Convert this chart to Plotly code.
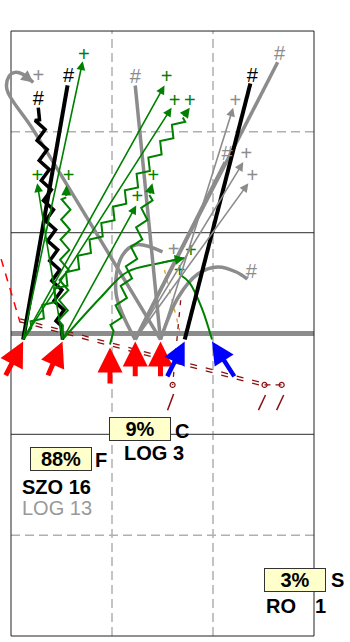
import math
import plotly.graph_objects as go

# ---------------- data (pitch units: 30 wide, 60 long) ----------------
PITCH_W, PITCH_H = 30, 60
grid_dashed_x = [10, 20]
grid_dashed_y = [10, 50]
grid_solid_y = [20, 40]
midline_y = 30

# big origin arrows (tail -> tip)
shot_team = ["A", "A", "A", "A", "A", "B", "B"]
shot_tail_x = [-0.6, 3.6, 9.8, 12.3, 14.8, 15.4, 22.2]
shot_tail_y = [25.7, 25.7, 24.9, 25.6, 25.6, 25.6, 25.6]
shot_tip_x = [1.2, 5.1, 9.8, 12.3, 14.8, 17.2, 19.9]
shot_tip_y = [29.2, 29.2, 28.6, 29.2, 29.2, 29.2, 29.2]

# thin passes with arrow heads
pass_kind = ["green", "green", "green", "green", "green", "gray", "gray", "gray"]
pass_x0 = [1.2, 5.1, 1.2, 1.2, 5.1, 14.8, 12.3, 12.3]
pass_y0 = [29.4, 29.4, 29.4, 29.4, 29.4, 29.4, 29.4, 29.4]
pass_x1 = [7.1, 2.6, 15.2, 15.9, 12.4, 22.0, 23.0, 23.5]
pass_y1 = [57.0, 44.9, 54.6, 52.4, 42.7, 52.4, 47.0, 44.9]

# thick straight runs
run_kind = ["black", "gray", "gray", "gray", "black"]
run_x0 = [1.2, 14.8, 12.3, 12.3, 17.2]
run_y0 = [29.4, 29.4, 29.4, 29.4, 29.4]
run_x1 = [5.6, 12.3, 26.4, 21.2, 23.7]
run_y1 = [54.6, 54.6, 56.9, 47.0, 54.8]

# dribbles (zig-zag)
drib_kind = ["black", "green", "green", "green"]
drib_x0 = [5.1, 5.1, 1.2, 9.8]
drib_y0 = [29.4, 29.4, 29.4, 28.9]
drib_x1 = [2.7, 5.5, 17.7, 14.0]
drib_y1 = [52.4, 44.7, 52.4, 44.9]

# curved runs
hook_x = [14.8, 2.2, -0.4, -0.2, 0.4, 1.2, 2.2]
hook_y = [29.4, 50.2, 54.2, 55.5, 55.9, 55.7, 54.9]
arc1_x = [14.8, 16.5, 18.5, 20.5, 22.3, 23.4]
arc1_y = [29.4, 33.5, 35.9, 36.6, 36.1, 35.4]
arc2_x = [12.3, 10.4, 11.0, 12.4, 15.0]
arc2_y = [29.4, 34.0, 37.7, 38.8, 38.1]
garc1_x = [5.1, 8.9, 11.5, 14.8, 17.2]
garc1_y = [29.4, 33.6, 36.1, 37.0, 37.5]
garc2_x = [19.9, 18.9, 17.7, 16.8]
garc2_y = [29.4, 32.5, 35.0, 35.8]

# end symbols
sym_text = ["+", "+", "+", "+", "+", "+", "+", "+", "+", "+",
            "#", "#", "#",
            "#", "#", "#", "#",
            "+", "+", "+", "+", "+"]
sym_kind = ["green"] * 10 + ["black"] * 3 + ["gray"] * 4 + ["gray"] * 5
sym_x = [7.2, 2.6, 5.7, 15.4, 16.2, 17.7, 14.1, 12.5, 17.8, 16.7,
         5.7, 2.7, 23.9,
         12.3, 26.6, 21.4, 23.8,
         2.7, 22.2, 23.3, 23.9, 16.1]
sym_y = [57.5, 45.5, 45.5, 55.3, 53.0, 53.0, 45.5, 43.4, 38.1, 36.1,
         55.4, 53.2, 55.4,
         55.3, 57.6, 47.7, 36.0,
         55.4, 53.0, 47.7, 45.5, 38.2]

# opponent passes (dashed)
red_dash_x = [-1.4, 0.9]
red_dash_y = [38.8, 31.1]
dpass_x = [0.9, 25.1]
dpass_y = [31.3, 24.9]
dpass2_x = [25.1, 26.8]
dpass2_y = [24.9, 24.9]
dvert_x = [16.8, 16.0]
dvert_y = [33.3, 24.9]
orange_x = [15.2, 16.7]
orange_y = [36.3, 30.3]
ball_x = [16.0, 25.1, 26.8]
ball_y = [24.9, 24.9, 24.9]
slash_x0 = [15.5, 24.5, 26.3]
slash_y0 = [22.4, 22.4, 22.4]
slash_x1 = [16.1, 25.2, 27.0]
slash_y1 = [24.0, 23.9, 23.9]

# zone boxes
box_text = ["88%", "9%", "3%"]
box_x = [4.95, 12.77, 28.07]
box_y = [17.6, 20.5, 5.55]
zone_text = ["F", "C", "S"]
zone_x = [8.15, 16.05, 31.5]
zone_y = [17.5, 20.3, 5.55]
player_text = ["SZO 16", "LOG 13", "LOG 3", "RO", "1"]
player_role = ["main", "sub", "main", "main", "main"]
player_x = [0.85, 0.85, 11.0, 25.05, 29.9]
player_y = [14.8, 12.7, 18.15, 3.0, 3.0]

# ---------------- styles ----------------
COL = {"green": "#008000", "gray": "#8c8c8c", "black": "#000000",
       "A": "#ff0000", "B": "#0000ff"}
FONT = "Liberation Sans, Arial, sans-serif"


def zigzag(x0, y0, x1, y1, step=1.0, amp=0.45, lead=1.4, tail=1.2):
    dx, dy = x1 - x0, y1 - y0
    L = math.hypot(dx, dy)
    ux, uy = dx / L, dy / L
    nx, ny = -uy, ux
    xs, ys = [x0, x0 + ux * lead], [y0 + 0, y0 + uy * lead]
    t = lead + step / 2
    k = 0
    while t < L - tail:
        s = amp if k % 2 == 0 else -amp
        xs.append(x0 + ux * t + nx * s)
        ys.append(y0 + uy * t + ny * s)
        t += step
        k += 1
    xs.append(x0 + ux * (L - tail))
    ys.append(y0 + uy * (L - tail))
    return xs, ys


fig = go.Figure()


def line(xs, ys, color, width, dash=None, shape="linear"):
    fig.add_trace(go.Scatter(x=xs, y=ys, mode="lines", hoverinfo="skip",
                             line=dict(color=color, width=width, dash=dash, shape=shape),
                             showlegend=False))


# opponent dashed passes
line(red_dash_x, red_dash_y, "#ff0000", 1.5, "8px,7px")
line(dpass_x, [v + 0.15 for v in dpass_y], "#8b1010", 1.3, "7px,9px")
line(dpass_x, [v - 0.15 for v in dpass_y], "#8b1010", 1.3, "7px,9px")
line(dpass2_x, dpass2_y, "#8b1010", 1.3, "6px,5px")
line(dvert_x, dvert_y, "#8b1010", 1.3, "5px,7px")
line(orange_x, orange_y, "#e0a020", 1.3, "4px,6px")
for a, b, c, d in zip(slash_x0, slash_y0, slash_x1, slash_y1):
    line([a, c], [b, d], "#8b1010", 1.5)
fig.add_trace(go.Scatter(x=ball_x, y=ball_y, mode="markers", hoverinfo="skip", showlegend=False,
                         marker=dict(symbol="circle-open", size=5, color="#8b1010", line=dict(width=1.2))))

# curved runs
line(hook_x, hook_y, COL["gray"], 3.5, shape="spline")
line(arc1_x, arc1_y, COL["gray"], 3.5, shape="spline")
line(arc2_x, arc2_y, COL["gray"], 3.5, shape="spline")
line(garc1_x, garc1_y, COL["green"], 2, shape="spline")
line(garc2_x, garc2_y, COL["green"], 2, shape="spline")

# straight thick runs
for k, a, b, c, d in zip(run_kind, run_x0, run_y0, run_x1, run_y1):
    line([a, c], [b, d], COL[k], 4 if k == "black" else 3.5)

# dribbles
drib_ends = []
for k, a, b, c, d in zip(drib_kind, drib_x0, drib_y0, drib_x1, drib_y1):
    xs, ys = zigzag(a, b, c, d)
    if k == "black":
        xs.append(c); ys.append(d)
    line(xs, ys, COL[k], 3.5 if k == "black" else 2)
    if k != "black":
        drib_ends.append((xs[-1], ys[-1], c, d))

# end symbols
for kind in ["green", "black", "gray"]:
    idx = [i for i, k in enumerate(sym_kind) if k == kind]
    fig.add_trace(go.Scatter(x=[sym_x[i] for i in idx], y=[sym_y[i] for i in idx],
                             text=[sym_text[i] for i in idx], mode="text", hoverinfo="skip",
                             showlegend=False, cliponaxis=False,
                             textfont=dict(family=FONT, size=20, color=COL[kind])))

# ---------- arrows (annotations) ----------
def arrow(x0, y0, x1, y1, color, width, size, head=2):
    fig.add_annotation(x=x1, y=y1, ax=x0, ay=y0, xref="x", yref="y", axref="x", ayref="y",
                       text="", showarrow=True, arrowhead=head, arrowsize=size,
                       arrowwidth=width, arrowcolor=color)


for k, a, b, c, d in zip(pass_kind, pass_x0, pass_y0, pass_x1, pass_y1):
    arrow(a, b, c, d, COL[k], 1.6, 1.1)
for a, b, c, d in drib_ends:
    arrow(a, b, c, d, COL["green"], 2, 1.0)
arrow(hook_x[-2], hook_y[-2], hook_x[-1], hook_y[-1], COL["gray"], 3, 0.8)
arrow(garc1_x[-2], garc1_y[-2], garc1_x[-1], garc1_y[-1], COL["green"], 2, 1.0)

for t, a, b, c, d in zip(shot_team, shot_tail_x, shot_tail_y, shot_tip_x, shot_tip_y):
    arrow(a, b, c, d, COL[t], 5 if t == "A" else 4.5, 1.0)

# ---------- labels ----------
for t, x, y in zip(box_text, box_x, box_y):
    fig.add_annotation(x=x, y=y, xref="x", yref="y", text="<b>" + t + "</b>", showarrow=False,
                       font=dict(family=FONT, size=20, color="black"),
                       bgcolor="#ffffcc", bordercolor="#333333", borderwidth=1,
                       width=58, height=20, borderpad=1)
for t, x, y in zip(zone_text, zone_x, zone_y):
    fig.add_annotation(x=x, y=y, xref="x", yref="y", text="<b>" + t + "</b>", showarrow=False,
                       xanchor="left", font=dict(family=FONT, size=20, color="black"))
for t, r, x, y in zip(player_text, player_role, player_x, player_y):
    fig.add_annotation(x=x, y=y, xref="x", yref="y",
                       text=("<b>" + t + "</b>") if r == "main" else t, showarrow=False,
                       xanchor="left",
                       font=dict(family=FONT, size=20, color="black" if r == "main" else "#999999"))

# ---------- pitch shapes ----------
shapes = []
for gx in grid_dashed_x:
    shapes.append(dict(type="line", x0=gx, x1=gx, y0=0, y1=PITCH_H, layer="below",
                       line=dict(color="#b0b0b0", width=1.5, dash="9px,5px")))
for gy in grid_dashed_y:
    shapes.append(dict(type="line", x0=0, x1=PITCH_W, y0=gy, y1=gy, layer="below",
                       line=dict(color="#b0b0b0", width=1.5, dash="9px,5px")))
for gy in grid_solid_y:
    shapes.append(dict(type="line", x0=0, x1=PITCH_W, y0=gy, y1=gy, layer="below",
                       line=dict(color="#555555", width=1.2)))
shapes.append(dict(type="line", x0=0, x1=PITCH_W, y0=midline_y, y1=midline_y, layer="below",
                   line=dict(color="#8c8c8c", width=5)))
shapes.append(dict(type="rect", x0=0, x1=PITCH_W, y0=0, y1=PITCH_H, layer="below",
                   line=dict(color="#222222", width=1)))

fig.update_layout(
    width=350, height=642, margin=dict(l=0, r=0, t=0, b=0),
    paper_bgcolor="white", plot_bgcolor="white", shapes=shapes,
    xaxis=dict(range=[-1.089, 33.564], visible=False, fixedrange=True),
    yaxis=dict(range=[-0.595, 63.076], visible=False, fixedrange=True),
    showlegend=False,
)
fig.write_html("out.html", config={"displayModeBar": False, "staticPlot": True},
               post_script="document.body.style.margin='0';document.body.style.overflow='hidden';")
